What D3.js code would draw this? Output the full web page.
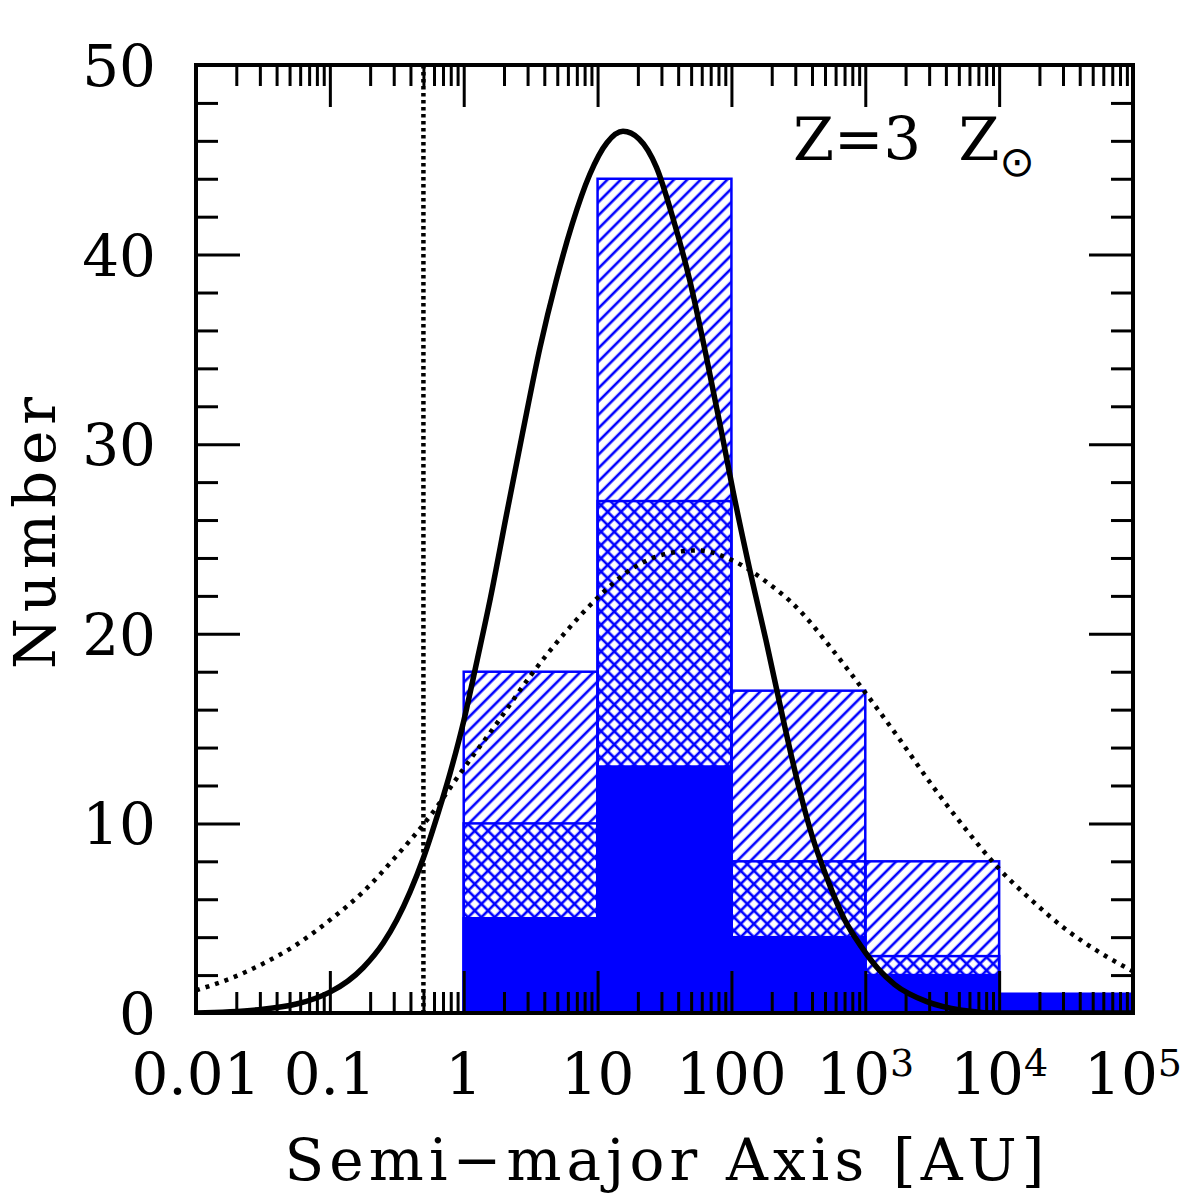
<!DOCTYPE html>
<html>
<head>
<meta charset="utf-8">
<script src="https://cdn.jsdelivr.net/npm/d3@7"></script>
<style>
  body { margin: 0; background: #fff; }
  text { font-family: "DejaVu Serif", serif; fill: #000; }
</style>
</head>
<body>
<div id="chart"></div>
<script>
// histogram bins: decades in AU
var binEdges = [1, 10, 100, 1000, 10000, 100000];
var countAll = [18, 44, 17, 8, 1];      // single hatch
var countMid = [10, 27, 8, 3, 1];       // cross hatch
var countLow = [5, 13, 4, 2, 1];        // solid fill

// solid curve (log10 a, N)
var solidLogA = [-2.0, -1.5, -1.0, -0.75, -0.6, -0.5, -0.4, -0.3, -0.18, -0.1, 0.0, 0.1, 0.2, 0.32, 0.44, 0.57,
  0.69, 0.81, 0.94, 1.07, 1.19, 1.31, 1.44, 1.56, 1.69, 1.81, 1.93, 2.01, 2.13, 2.26, 2.38, 2.49, 2.6,
  2.72, 2.84, 2.97, 3.1, 3.22, 3.46, 3.72, 4.0, 5.0];
var solidN = [0.0, 0.2, 1.1, 2.4, 3.7, 4.9, 6.4, 8.2, 10.8, 12.7, 15.4, 18.6, 21.9, 26.3, 30.6, 35.1,
  38.6, 41.6, 44.2, 45.9, 46.5, 46.1, 44.6, 42.0, 38.6, 34.7, 30.5, 27.6, 23.6, 19.6, 15.7, 12.3, 9.4,
  7.0, 5.0, 3.5, 2.3, 1.5, 0.6, 0.15, 0.0, 0.0];

// dotted curve (log10 a, N)
var dotLogA = [-2.0, -1.75, -1.5, -1.25, -1.0, -0.75, -0.5, -0.25, 0.0, 0.25, 0.5, 0.75, 1.0, 1.25, 1.5,
  1.75, 2.0, 2.25, 2.5, 2.75, 3.0, 3.25, 3.5, 3.75, 4.0, 4.25, 4.5, 4.75, 5.0];
var dotN = [1.2, 1.8, 2.6, 3.6, 4.9, 6.4, 8.3, 10.4, 12.9, 15.3, 17.8, 20.0, 21.9, 23.4, 24.2,
  24.4, 23.9, 22.8, 21.3, 19.2, 16.9, 14.5, 12.0, 9.7, 7.6, 5.9, 4.4, 3.2, 2.2];

var yTickLabels = [0, 10, 20, 30, 40, 50];
var xTickValues = [0.01, 0.1, 1, 10, 100, 1000, 10000, 100000];
var xTickText = [['0.01', ''], ['0.1', ''], ['1', ''], ['10', ''], ['100', ''], ['10', '3'], ['10', '4'], ['10', '5']];
var limitA = 0.5;

var W = 1196, H = 1196;
var L = 196, R = 1133, T = 65, B = 1013;
var blue = '#0000ff';

var svg = d3.select('#chart').append('svg').attr('width', W).attr('height', H);

var x = d3.scaleLog().domain([0.01, 1e5]).range([L, R]);
var y = d3.scaleLinear().domain([0, 50]).range([B, T]);

var defs = svg.append('defs');
defs.append('clipPath').attr('id', 'plotclip')
  .append('rect').attr('x', L).attr('y', T).attr('width', R - L).attr('height', B - T);

function hatch(id, angle) {
  var p = defs.append('pattern')
    .attr('id', id)
    .attr('patternUnits', 'userSpaceOnUse')
    .attr('width', 9.4).attr('height', 9.4)
    .attr('patternTransform', 'rotate(' + angle + ')');
  p.append('line')
    .attr('x1', 2).attr('y1', -1).attr('x2', 2).attr('y2', 11)
    .attr('stroke', blue).attr('stroke-width', 2.6);
}
hatch('hatchA', 45);
hatch('hatchB', -45);

var bins = countAll.map(function(d, i) {
  return { x0: binEdges[i], x1: binEdges[i + 1], all: d, mid: countMid[i], low: countLow[i] };
});

var plot = svg.append('g').attr('clip-path', 'url(#plotclip)');

function layer(key, fill) {
  plot.selectAll('rect.' + key)
    .data(bins)
    .enter().append('rect')
    .attr('class', key)
    .attr('x', function(d) { return x(d.x0); })
    .attr('width', function(d) { return x(d.x1) - x(d.x0); })
    .attr('y', function(d) { return y(d[key]); })
    .attr('height', function(d) { return y(0) - y(d[key]); })
    .attr('fill', fill)
    .attr('stroke', blue)
    .attr('stroke-width', 2.5);
}
layer('all', 'url(#hatchA)');
layer('mid', 'url(#hatchB)');
layer('low', blue);

var line = d3.line()
  .x(function(d) { return x(Math.pow(10, d[0])); })
  .y(function(d) { return y(d[1]); })
  .curve(d3.curveMonotoneX);

plot.append('path')
  .datum(dotLogA.map(function(v, i) { return [v, dotN[i]]; }))
  .attr('d', line)
  .attr('fill', 'none').attr('stroke', '#000')
  .attr('stroke-width', 4.5).attr('stroke-dasharray', '4,6');

plot.append('path')
  .datum(solidLogA.map(function(v, i) { return [v, solidN[i]]; }))
  .attr('d', line)
  .attr('fill', 'none').attr('stroke', '#000')
  .attr('stroke-width', 5.5).attr('stroke-linejoin', 'round');

plot.append('line')
  .attr('x1', x(limitA)).attr('x2', x(limitA))
  .attr('y1', T).attr('y2', B)
  .attr('stroke', '#000').attr('stroke-width', 4.5).attr('stroke-dasharray', '3.5,3.5');

// ticks
var minorX = [];
for (var e = -2; e < 5; e++) {
  for (var m = 2; m < 10; m++) minorX.push(m * Math.pow(10, e));
}
var minorY = d3.range(0, 51, 2).filter(function(v) { return v % 10 !== 0; });
var majorY = d3.range(0, 51, 10);

function ticks(axisFn, scale, vals, len, tx, ty) {
  var g = svg.append('g')
    .attr('transform', 'translate(' + tx + ',' + ty + ')')
    .call(axisFn(scale).tickValues(vals).tickSize(len).tickFormat(''));
  g.select('.domain').remove();
  g.selectAll('line').attr('stroke', '#000').attr('stroke-width', 3);
}
ticks(d3.axisBottom, x, minorX, -21, 0, B);
ticks(d3.axisBottom, x, xTickValues, -42, 0, B);
ticks(d3.axisTop, x, minorX, -21, 0, T);
ticks(d3.axisTop, x, xTickValues, -42, 0, T);
ticks(d3.axisLeft, y, minorY, -22, L, 0);
ticks(d3.axisLeft, y, majorY, -44, L, 0);
ticks(d3.axisRight, y, minorY, -22, R, 0);
ticks(d3.axisRight, y, majorY, -44, R, 0);

svg.append('rect')
  .attr('x', L).attr('y', T).attr('width', R - L).attr('height', B - T)
  .attr('fill', 'none').attr('stroke', '#000').attr('stroke-width', 4);

// tick labels
svg.selectAll('text.ylab')
  .data(yTickLabels)
  .enter().append('text')
  .attr('class', 'ylab')
  .attr('x', 156)
  .attr('y', function(d) { return y(d) + 21; })
  .attr('text-anchor', 'end')
  .style('font-size', '58px')
  .text(function(d) { return d; });

var xl = svg.selectAll('text.xlab')
  .data(xTickValues)
  .enter().append('text')
  .attr('class', 'xlab')
  .attr('x', function(d) { return x(d); })
  .attr('y', 1094)
  .attr('text-anchor', 'middle')
  .style('font-size', '58px');
xl.append('tspan').text(function(d, i) { return xTickText[i][0]; });
xl.append('tspan')
  .attr('dy', -18)
  .style('font-size', '38px')
  .text(function(d, i) { return xTickText[i][1]; });

svg.append('text')
  .attr('x', (L + R) / 2)
  .attr('y', 1180)
  .attr('text-anchor', 'middle')
  .attr('textLength', 760)
  .attr('lengthAdjust', 'spacing')
  .style('font-size', '58px')
  .text('Semi\u2212major Axis [AU]');

svg.append('text')
  .attr('transform', 'translate(55,' + ((T + B) / 2 - 6) + ') rotate(-90)')
  .attr('text-anchor', 'middle')
  .attr('textLength', 272)
  .attr('lengthAdjust', 'spacing')
  .style('font-size', '58px')
  .text('Number');

var ann = svg.append('text')
  .attr('x', 793)
  .attr('y', 160)
  .style('font-size', '59px')
  .style('white-space', 'pre');
ann.append('tspan').text('Z=3  Z');
ann.append('tspan')
  .attr('dy', 16)
  .style('font-size', '42px')
  .style('font-family', '"DejaVu Sans", sans-serif')
  .text('\u2299');
</script>
</body>
</html>
